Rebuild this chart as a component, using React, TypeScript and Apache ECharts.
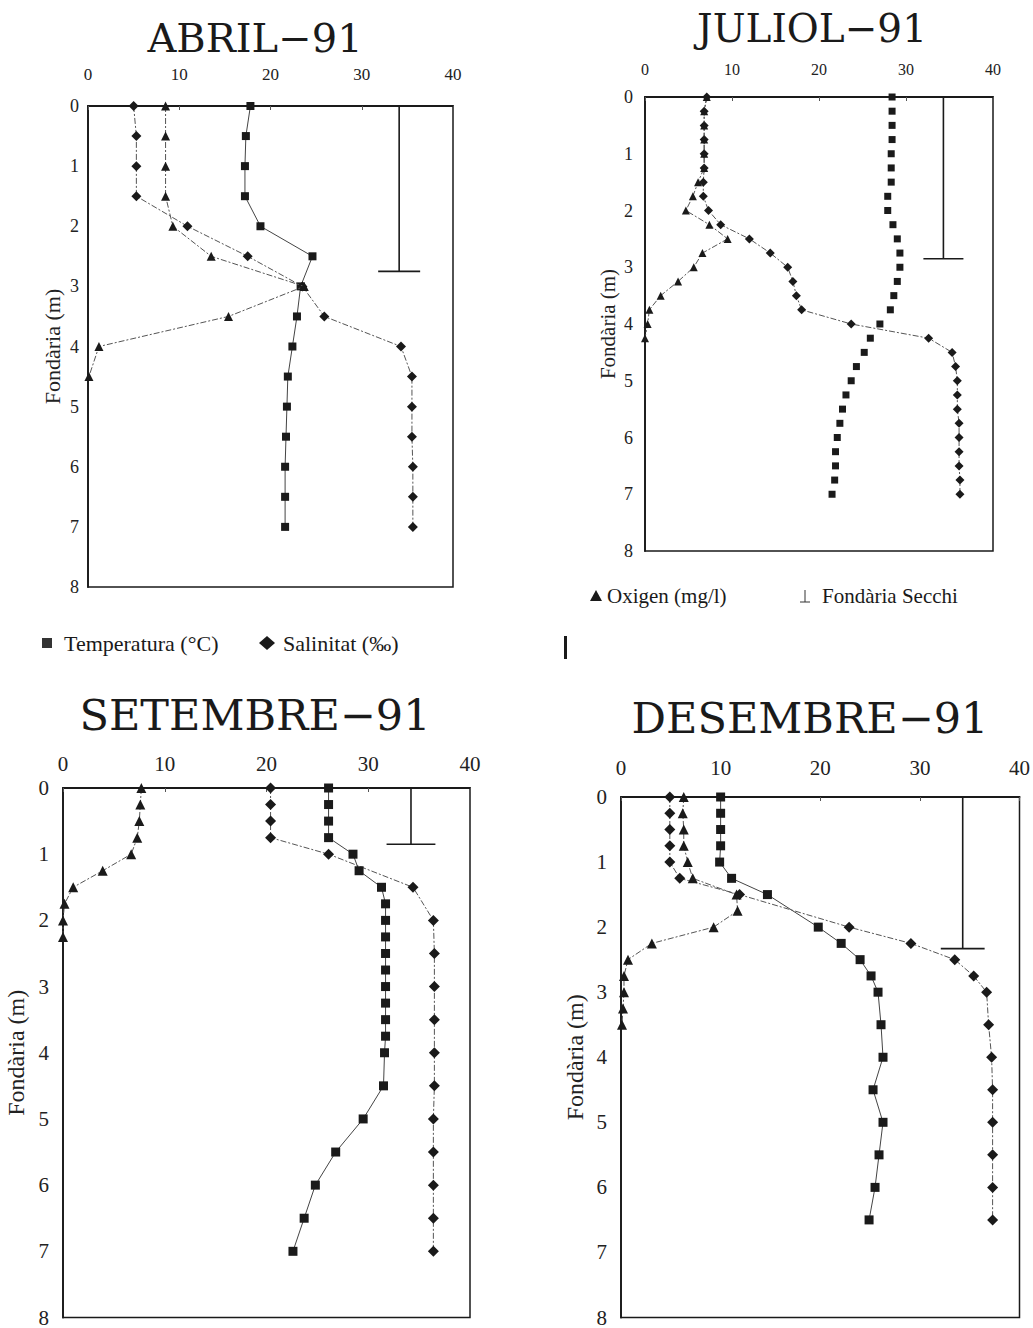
import React, { useEffect, useRef } from "react";
import * as echarts from "echarts";

// ---------- Data ----------
const panelTitles = ["ABRIL−91", "JULIOL−91", "SETEMBRE−91", "DESEMBRE−91"];
const xTicksMax = 40;
const depthMax = 8;

// ABRIL-91
const abrilDepth = [0, 0.5, 1, 1.5, 2, 2.5, 3, 3.5, 4, 4.5, 5, 5.5, 6, 6.5, 7];
const abrilTemp = [17.8, 17.3, 17.2, 17.2, 18.9, 24.6, 23.3, 22.9, 22.4, 21.9, 21.8, 21.7, 21.6, 21.6, 21.6];
const abrilSal = [5.0, 5.3, 5.3, 5.3, 10.9, 17.5, 23.5, 25.9, 34.3, 35.5, 35.5, 35.5, 35.6, 35.6, 35.6];
const abrilOxyDepth = [0, 0.5, 1, 1.5, 2, 2.5, 3, 3.5, 4, 4.5];
const abrilOxy = [8.5, 8.5, 8.5, 8.5, 9.3, 13.5, 23.7, 15.4, 1.2, 0.1];

// JULIOL-91
const julDepth = [0, 0.25, 0.5, 0.75, 1, 1.25, 1.5, 1.75, 2, 2.25, 2.5, 2.75, 3, 3.25, 3.5, 3.75, 4, 4.25, 4.5, 4.75, 5, 5.25, 5.5, 5.75, 6, 6.25, 6.5, 6.75, 7];
const julTemp = [28.4, 28.4, 28.4, 28.4, 28.3, 28.3, 28.3, 27.9, 27.9, 28.5, 29.0, 29.3, 29.3, 29.0, 28.6, 28.2, 27.0, 25.9, 25.2, 24.3, 23.7, 23.1, 22.7, 22.4, 22.1, 21.9, 21.9, 21.8, 21.5];
const julSal = [7.1, 6.8, 6.8, 6.8, 6.8, 6.8, 6.7, 6.7, 7.3, 8.7, 12.0, 14.4, 16.4, 17.0, 17.4, 18.0, 23.7, 32.6, 35.3, 35.7, 35.9, 35.9, 35.9, 36.1, 36.1, 36.1, 36.1, 36.2, 36.2];
const julOxyDepth = [0, 0.25, 0.5, 0.75, 1, 1.25, 1.5, 1.75, 2, 2.25, 2.5, 2.75, 3, 3.25, 3.5, 3.75, 4, 4.25];
const julOxy = [7.1, 6.8, 6.8, 6.8, 6.8, 6.8, 6.1, 5.5, 4.7, 7.4, 9.5, 6.6, 5.6, 3.8, 1.8, 0.5, 0.3, 0];

// SETEMBRE-91
const setTempDepth = [0, 0.25, 0.5, 0.75, 1, 1.25, 1.5, 1.75, 2, 2.25, 2.5, 2.75, 3, 3.25, 3.5, 3.75, 4, 4.5, 5, 5.5, 6, 6.5, 7];
const setTemp = [26.1, 26.1, 26.1, 26.1, 28.5, 29.1, 31.3, 31.7, 31.7, 31.7, 31.7, 31.7, 31.7, 31.7, 31.7, 31.7, 31.6, 31.5, 29.5, 26.8, 24.8, 23.7, 22.6];
const setSalDepth = [0, 0.25, 0.5, 0.75, 1, 1.5, 2, 2.5, 3, 3.5, 4, 4.5, 5, 5.5, 6, 6.5, 7];
const setSal = [20.4, 20.4, 20.4, 20.4, 26.1, 34.4, 36.4, 36.5, 36.5, 36.5, 36.5, 36.5, 36.4, 36.4, 36.4, 36.4, 36.4];
const setOxyDepth = [0, 0.25, 0.5, 0.75, 1, 1.25, 1.5, 1.75, 2, 2.25];
const setOxy = [7.7, 7.6, 7.5, 7.3, 6.7, 3.9, 1.0, 0.15, 0, 0];

// DESEMBRE-91
const desTempDepth = [0, 0.25, 0.5, 0.75, 1, 1.25, 1.5, 2, 2.25, 2.5, 2.75, 3, 3.5, 4, 4.5, 5, 5.5, 6, 6.5];
const desTemp = [10.0, 10.0, 10.0, 10.0, 9.9, 11.1, 14.7, 19.8, 22.1, 24.0, 25.1, 25.8, 26.1, 26.3, 25.3, 26.3, 25.9, 25.5, 24.9];
const desSalDepth = [0, 0.25, 0.5, 0.75, 1, 1.25, 1.5, 2, 2.25, 2.5, 2.75, 3, 3.5, 4, 4.5, 5, 5.5, 6, 6.5];
const desSal = [4.9, 4.9, 4.9, 4.9, 4.9, 5.9, 11.9, 22.9, 29.1, 33.5, 35.4, 36.7, 36.9, 37.2, 37.3, 37.3, 37.3, 37.3, 37.3];
const desOxyDepth = [0, 0.25, 0.5, 0.75, 1, 1.25, 1.5, 1.75, 2, 2.25, 2.5, 2.75, 3, 3.25, 3.5];
const desOxy = [6.3, 6.2, 6.3, 6.3, 6.7, 7.2, 11.6, 11.7, 9.3, 3.1, 0.7, 0.3, 0.3, 0.2, 0.1];

// Secchi depth (x position, depth, half bar width) per panel
const secchiX = [34.1, 34.3, 34.2, 34.3];
const secchiDepth = [2.75, 2.85, 0.85, 2.33];
const secchiHalf = [2.3, 2.3, 2.4, 2.2];

const legendTemp = "Temperatura (°C)";
const legendSal = "Salinitat (‰)";
const legendOxy = "Oxigen (mg/l)";
const legendSecchi = "Fondària Secchi";
const yName = "Fondària (m)";

const panelData = [
  { tD: abrilDepth, t: abrilTemp, sD: abrilDepth, s: abrilSal, oD: abrilOxyDepth, o: abrilOxy },
  { tD: julDepth, t: julTemp, sD: julDepth, s: julSal, oD: julOxyDepth, o: julOxy },
  { tD: setTempDepth, t: setTemp, sD: setSalDepth, s: setSal, oD: setOxyDepth, o: setOxy },
  { tD: desTempDepth, t: desTemp, sD: desSalDepth, s: desSal, oD: desOxyDepth, o: desOxy },
];

// ---------- Layout ----------
const layout = [
  { left: 88, top: 106, width: 365, height: 481, xFont: 17, yFont: 18, nameFont: 22, xMargin: 23, yMargin: 9, nameGap: 25, sym: 8, titleX: 255, titleY: 38, titleFont: 40, tempLine: true },
  { left: 645, top: 97, width: 348, height: 454, xFont: 16, yFont: 18, nameFont: 21, xMargin: 20, yMargin: 12, nameGap: 27, sym: 7, titleX: 812, titleY: 28, titleFont: 39, tempLine: false },
  { left: 63, top: 788, width: 407, height: 530, xFont: 21, yFont: 21, nameFont: 24, xMargin: 14, yMargin: 14, nameGap: 35, sym: 9, titleX: 255, titleY: 715, titleFont: 43, tempLine: true },
  { left: 621, top: 797, width: 405, height: 521, xFont: 21, yFont: 21, nameFont: 24, xMargin: 19, yMargin: 14, nameGap: 34, sym: 9, titleX: 810, titleY: 718, titleFont: 43, tempLine: true },
];

const zip = (vals: number[], depths: number[]) => vals.map((v, i) => [v, depths[i]]);

function buildOption() {
  const FONT = "'Liberation Serif', 'DejaVu Serif', serif";
  const grid: any[] = [];
  const xAxis: any[] = [];
  const yAxis: any[] = [];
  const series: any[] = [];
  const graphic: any[] = [];

  layout.forEach((L, i) => {
    grid.push({
      left: L.left, top: L.top, width: L.width, height: L.height,
      show: true, borderColor: "#1a1a1a", borderWidth: 1.5, backgroundColor: "transparent",
    });
    xAxis.push({
      type: "value", gridIndex: i, position: "top", min: 0, max: xTicksMax, interval: 10,
      axisLine: { show: true, lineStyle: { color: "#1a1a1a", width: 1.8 } },
      axisTick: { show: true, inside: true, length: 4, lineStyle: { color: "#555" } },
      splitLine: { show: false },
      axisLabel: { fontFamily: FONT, fontSize: L.xFont, color: "#222", margin: L.xMargin },
    });
    yAxis.push({
      type: "value", gridIndex: i, inverse: true, min: 0, max: depthMax, interval: 1,
      name: yName, nameLocation: "middle", nameGap: L.nameGap,
      nameTextStyle: { fontFamily: FONT, fontSize: L.nameFont, color: "#222" },
      axisLine: { show: true, lineStyle: { color: "#1a1a1a", width: 1.8 } },
      axisTick: { show: false },
      splitLine: { show: false },
      axisLabel: { fontFamily: FONT, fontSize: L.yFont, color: "#222", margin: L.yMargin },
    });
    const d = panelData[i];
    const common = { type: "line", xAxisIndex: i, yAxisIndex: i, silent: true };
    series.push({
      ...common, name: legendTemp, data: zip(d.t, d.tD), symbol: "rect", symbolSize: L.sym,
      showSymbol: true, itemStyle: { color: "#1a1a1a" },
      lineStyle: { color: "#444", width: L.tempLine ? 1 : 0, opacity: L.tempLine ? 1 : 0 },
      z: 3,
    });
    series.push({
      ...common, name: legendSal, data: zip(d.s, d.sD), symbol: "diamond", symbolSize: L.sym + 2,
      itemStyle: { color: "#1a1a1a" },
      lineStyle: { color: "#555", width: 1, type: [6, 2, 2, 2] },
      z: 3,
    });
    series.push({
      ...common, name: legendOxy, data: zip(d.o, d.oD), symbol: "triangle", symbolSize: L.sym + 1,
      itemStyle: { color: "#1a1a1a" },
      lineStyle: { color: "#555", width: 1, type: [6, 2, 2, 2] },
      z: 4,
    });
    series.push({
      ...common, name: legendSecchi, data: [[secchiX[i], 0], [secchiX[i], secchiDepth[i]]],
      symbol: "none", lineStyle: { color: "#1a1a1a", width: 1.6 }, z: 2,
    });
    series.push({
      ...common, name: legendSecchi + " ", data: [[secchiX[i] - secchiHalf[i], secchiDepth[i]], [secchiX[i] + secchiHalf[i], secchiDepth[i]]],
      symbol: "none", lineStyle: { color: "#1a1a1a", width: 1.6 }, z: 2,
    });

    graphic.push({
      type: "text", x: L.titleX, y: L.titleY,
      style: {
        text: panelTitles[i], fill: "#1a1a1a", font: `${L.titleFont}px 'DejaVu Serif', serif`,
        textAlign: "center", textVerticalAlign: "middle",
      },
    });
  });

  const LFONT = "22px 'Liberation Serif', serif";
  const RFONT = "21px 'Liberation Serif', serif";
  // Left legend row
  graphic.push({ type: "rect", shape: { x: 42, y: 638, width: 10, height: 10 }, style: { fill: "#333" } });
  graphic.push({ type: "text", x: 64, y: 643, style: { text: legendTemp, font: LFONT, fill: "#1a1a1a", textVerticalAlign: "middle" } });
  graphic.push({ type: "polygon", shape: { points: [[267, 636], [275, 643], [267, 650], [259, 643]] }, style: { fill: "#1a1a1a" } });
  graphic.push({ type: "text", x: 283, y: 643, style: { text: legendSal, font: LFONT, fill: "#1a1a1a", textVerticalAlign: "middle" } });
  // Right legend row
  graphic.push({ type: "polygon", shape: { points: [[596, 590], [602, 601], [590, 601]] }, style: { fill: "#1a1a1a" } });
  graphic.push({ type: "text", x: 607, y: 596, style: { text: legendOxy, font: RFONT, fill: "#1a1a1a", textVerticalAlign: "middle" } });
  graphic.push({ type: "line", shape: { x1: 805, y1: 590, x2: 805, y2: 602 }, style: { stroke: "#333", lineWidth: 1 } });
  graphic.push({ type: "line", shape: { x1: 800, y1: 602, x2: 810, y2: 602 }, style: { stroke: "#333", lineWidth: 1 } });
  graphic.push({ type: "text", x: 822, y: 596, style: { text: legendSecchi, font: RFONT, fill: "#1a1a1a", textVerticalAlign: "middle" } });
  // stray vertical mark
  graphic.push({ type: "rect", shape: { x: 564, y: 636, width: 3, height: 23 }, style: { fill: "#1a1a1a" } });

  return {
    animation: false,
    backgroundColor: "#ffffff",
    grid, xAxis, yAxis, series, graphic,
  };
}

export default function App() {
  const ref = useRef<HTMLDivElement>(null);
  useEffect(() => {
    if (!ref.current) return;
    const chart = echarts.init(ref.current, undefined, { renderer: "svg" });
    chart.setOption(buildOption() as any);
    return () => chart.dispose();
  }, []);
  return (
    <div
      ref={ref}
      style={{ position: "absolute", left: 0, top: 0, width: 1033, height: 1328, background: "#fff" }}
    />
  );
}
